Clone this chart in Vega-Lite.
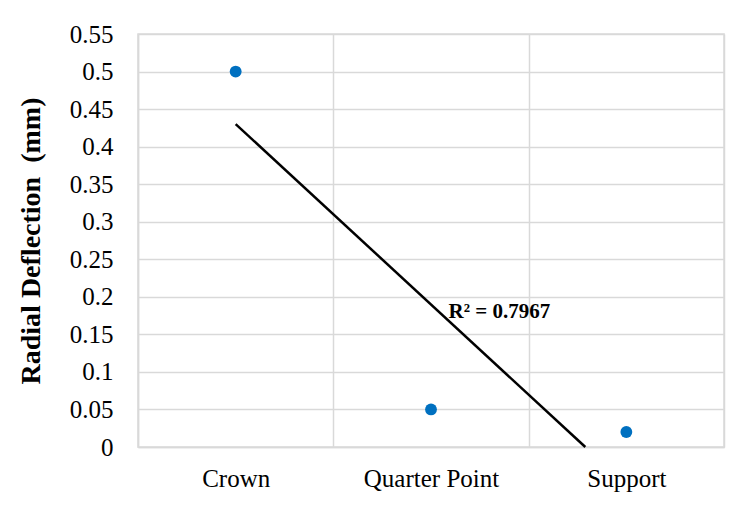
{
  "$schema": "https://vega.github.io/schema/vega-lite/v6.json",
  "autosize": "none",
  "width": 586,
  "height": 413,
  "padding": {"left": 138, "top": 34, "right": 10, "bottom": 59},
  "background": "white",
  "config": {
    "view": {"stroke": "#d9d9d9", "strokeWidth": 1.5},
    "font": "Liberation Serif"
  },
  "datasets": {
    "points": [
      {"location": "Crown", "pos": 1, "deflection": 0.5},
      {"location": "Quarter Point", "pos": 2, "deflection": 0.05},
      {"location": "Support", "pos": 3, "deflection": 0.02}
    ],
    "trend": [
      {"pos": 1, "deflection": 0.43},
      {"pos": 2.79, "deflection": 0}
    ],
    "note": [
      {"pos": 2.09, "deflection": 0.18, "label": "R² = 0.7967"}
    ]
  },
  "encoding": {
    "y": {
      "field": "deflection", "type": "quantitative",
      "scale": {"domain": [0, 0.55], "nice": false},
      "axis": {
        "title": "Radial Deflection\u00a0 (mm)",
        "titleFont": "Liberation Serif", "titleFontSize": 28, "titleFontWeight": "bold",
        "titleColor": "black", "titlePadding": 24,
        "values": [0, 0.05, 0.1, 0.15, 0.2, 0.25, 0.3, 0.35, 0.4, 0.45, 0.5, 0.55],
        "format": ".2~f", "labelOverlap": false,
        "labelFont": "Liberation Serif", "labelFontSize": 25, "labelColor": "black",
        "labelPadding": 25, "ticks": false,
        "domainColor": "#d9d9d9", "domainWidth": 1.5,
        "grid": true, "gridColor": "#d9d9d9", "gridWidth": 1.5
      }
    }
  },
  "layer": [
    {
      "data": {"name": "points"},
      "mark": {"type": "circle", "size": 140, "color": "#0070C0", "opacity": 1},
      "encoding": {
        "x": {
          "field": "pos", "type": "quantitative",
          "scale": {"domain": [0.5, 3.5], "nice": false, "zero": false},
          "axis": {
            "orient": "bottom",
            "title": null, "values": [0.5, 1.5, 2.5, 3.5],
            "labels": false, "ticks": false, "domain": false,
            "grid": true, "gridColor": "#d9d9d9", "gridWidth": 1.5
          }
        }
      }
    },
    {
      "data": {"name": "trend"},
      "mark": {"type": "line", "color": "black", "strokeWidth": 2.5},
      "encoding": {
        "x": {
          "field": "pos", "type": "quantitative",
          "axis": {
            "orient": "bottom",
            "title": null, "values": [1, 2, 3], "labelOverlap": false,
            "labelExpr": "datum.value == 1 ? 'Crown' : datum.value == 2 ? 'Quarter Point' : 'Support'",
            "labelFont": "Liberation Serif", "labelFontSize": 25, "labelColor": "black",
            "labelPadding": 19, "ticks": false, "grid": false,
            "domainColor": "#d9d9d9", "domainWidth": 1.5
          }
        }
      }
    },
    {
      "data": {"name": "note"},
      "mark": {"type": "text", "align": "left", "baseline": "middle", "font": "Liberation Serif", "fontSize": 21, "fontWeight": "bold", "color": "black"},
      "encoding": {
        "x": {"field": "pos", "type": "quantitative", "axis": null},
        "text": {"field": "label"}
      }
    }
  ],
  "resolve": {"axis": {"x": "independent"}}
}
